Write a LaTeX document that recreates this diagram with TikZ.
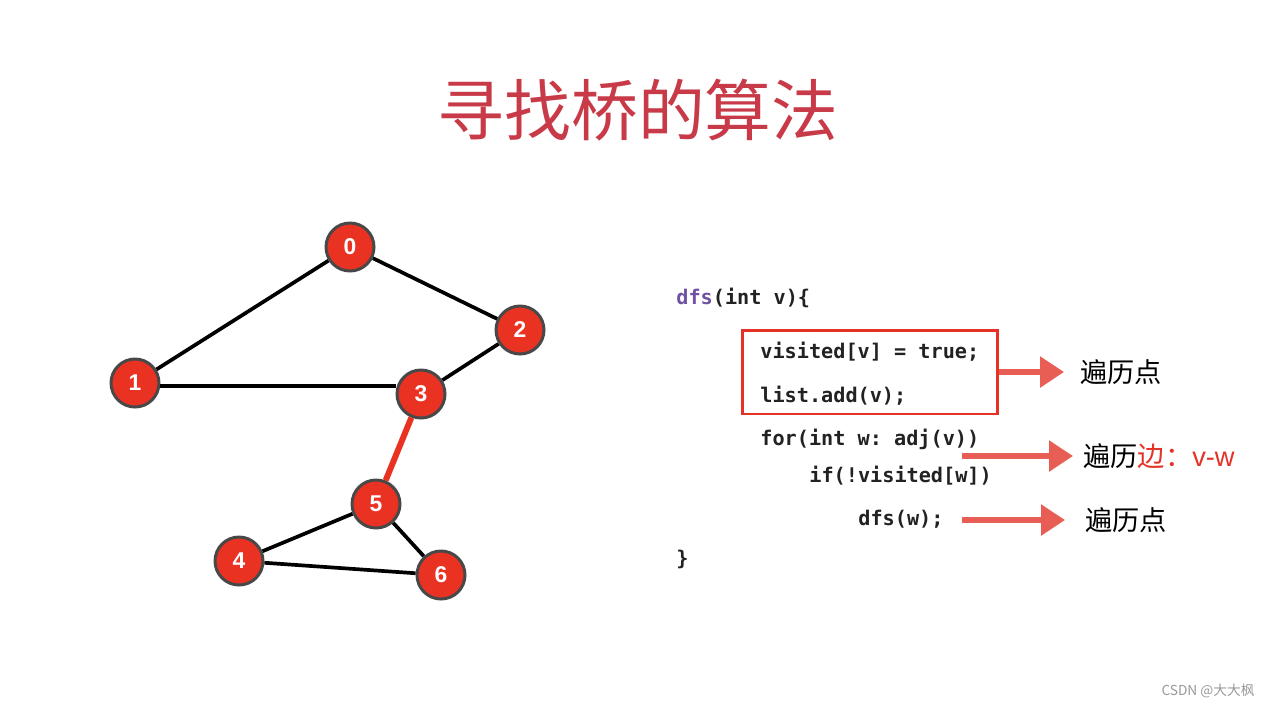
\documentclass[tikz,border=0pt]{standalone}
\usepackage{fontspec}
\setmainfont{Liberation Sans}
\setmonofont{DejaVu Sans Mono}
\newfontfamily\cjk{Noto Sans CJK SC}
\usepackage{tikz}
\usetikzlibrary{arrows.meta, positioning, shadows}
\usepackage{xcolor}
\definecolor{titlered}{RGB}{200,58,72}
\definecolor{nodered}{RGB}{234,50,35}
\definecolor{nodeedge}{RGB}{72,72,72}
\definecolor{boxred}{RGB}{228,50,38}
\definecolor{arrowred}{RGB}{233,94,84}
\definecolor{keyword}{RGB}{112,82,162}
\definecolor{codegray}{RGB}{34,34,34}

\begin{document}
\begin{tikzpicture}[
    x=0.02cm, y=-0.02cm,
    vertex/.style={circle, draw=nodeedge, line width=1.7pt, fill=nodered, minimum size=0.96cm, inner sep=0pt, text=white, font=\fontsize{13}{15}\selectfont\bfseries, drop shadow={opacity=0.25, shadow xshift=0.6pt, shadow yshift=-0.6pt}},
    edge/.style={line width=2.1pt, black},
    bridge/.style={line width=3.4pt, nodered},
    code/.style={anchor=west, inner sep=0pt, text=codegray, font=\fontsize{11.5}{14}\selectfont\ttfamily\bfseries},
    codebox/.style={draw=boxred, line width=1.7pt, minimum width=5.12cm, minimum height=1.68cm, inner sep=0pt},
    note/.style={anchor=west, inner sep=0pt, font=\cjk\fontsize{15.5}{18}\selectfont},
    arrow/.style={arrowred, line width=3.2pt, -{Triangle[length=0.48cm, width=0.6cm]}}
]
\useasboundingbox[fill=white] (0,0) rectangle (1274,708);

% Title
\node[text=titlered, font=\cjk\fontsize{38}{42}\selectfont] (title) at (638,110) {寻找桥的算法};

% Graph
\node[vertex] (v0) at (350,247) {0};
\node[vertex] (v1) at (135,383) {1};
\node[vertex] (v2) at (520,330) {2};
\node[vertex] (v3) at (421,394) {3};
\node[vertex] (v5) at (376,504) {5};
\node[vertex] (v4) at (239,561) {4};
\node[vertex] (v6) at (441,575) {6};

\draw[edge] (v0) -- (v1);
\draw[edge] (v0) -- (v2);
\draw[edge] ([yshift=-1.7pt]v1.east) -- ([yshift=-1.7pt]v1.east -| v3.west);
\draw[edge] (v2) -- (v3);
\draw[bridge] (v3) -- (v5);
\draw[edge] (v5) -- (v4);
\draw[edge] (v5) -- (v6);
\draw[edge] (v4) -- (v6);

% Code
\node[code] (c0) at (676,298) {\textcolor{keyword}{dfs}(int v)\{};
\node[code] (c1) at (760,352) {visited[v] = true;};
\node[code] (c2) at (760,396) {list.add(v);};
\node[code] (c3) at (760,439) {for(int w: adj(v))};
\node[code] (c4) at (809,476) {if(!visited[w])};
\node[code] (c5) at (858,519) {dfs(w);};
\node[code] (c6) at (676,559) {\}};
\node[codebox] (box) at (870,372) {};

% Notes
\node[note] (n1) at (1080,372) {遍历点};
\node[note] (n2) at (1083,456) {遍历\textcolor{boxred}{边：}\textcolor{boxred}{\fontspec{Liberation Sans}v-w}};
\node[note] (n3) at (1085,520) {遍历点};

\coordinate (a2) at (962,456);
\coordinate (a3) at (962,520);
\draw[arrow] (box.east) -- ([xshift=-0.32cm]n1.west);
\draw[arrow] (a2) -- ([xshift=-0.2cm]n2.west);
\draw[arrow] (a3) -- ([xshift=-0.4cm]n3.west);

% Watermark
\node[text=black!40, font=\cjk\fontsize{7.8}{9}\selectfont] (mark) at (1208,691) {CSDN @大大枫};
\end{tikzpicture}
\end{document}
